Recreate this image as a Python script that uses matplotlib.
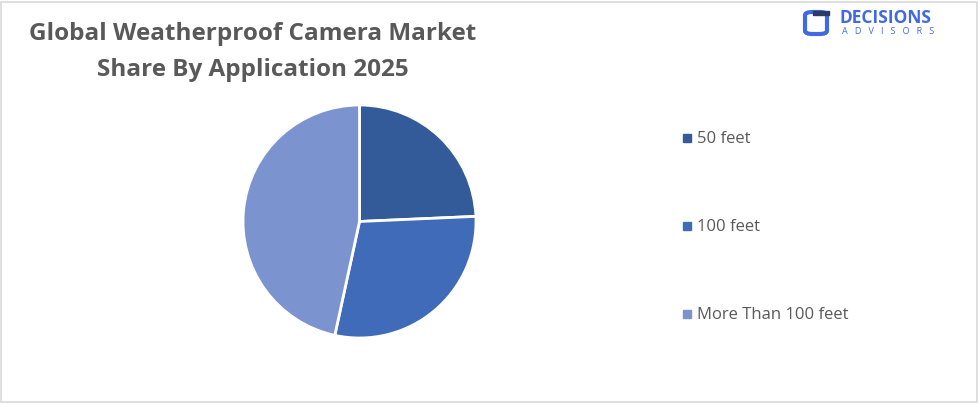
import matplotlib.pyplot as plt
from matplotlib.patches import Rectangle, FancyBboxPatch

# Market share by application
labels = ["50 feet", "100 feet", "More Than 100 feet"]
shares = [24.3, 29.1, 46.6]
colors = ["#335A99", "#3F6BB9", "#7B94CF"]

W, H = 979, 403
fig = plt.figure(figsize=(W / 100, H / 100), dpi=100)
fig.patch.set_facecolor("white")

# light frame around the whole chart
fig.patches.append(Rectangle((1 / W, 1 / H), 1 - 3 / W, 1 - 3 / H, transform=fig.transFigure,
                             fill=False, edgecolor="#D9D9D9", linewidth=1.2))

fig.text(253 / W, 1 - 34 / H, "Global Weatherproof Camera Market", ha="center", va="center",
         fontsize=17.5, fontweight="bold", color="#595959", family="Open Sans")
fig.text(253 / W, 1 - 70 / H, "Share By Application 2025", ha="center", va="center",
         fontsize=17.5, fontweight="bold", color="#595959", family="Open Sans")

# pie
ax = fig.add_axes([243 / W, (H - 338) / H, 233 / W, 233 / H])
wedges, _ = ax.pie(shares, colors=colors, startangle=90, counterclock=False,
                   wedgeprops=dict(edgecolor="white", linewidth=2))
ax.set_xlim(-1.0, 1.0)
ax.set_ylim(-1.0, 1.0)
ax.set_aspect("equal")

# legend
leg_y = [139, 227, 315]
for lab, col, y in zip(labels, colors, leg_y):
    fig.patches.append(Rectangle((683 / W, 1 - (y + 3) / H), 8 / W, 8 / H,
                                 transform=fig.transFigure, color=col))
    fig.text(697 / W, 1 - y / H, lab, ha="left", va="center", fontsize=12,
             color="#595959", family="Open Sans")

# logo
blue = "#4169E1"
fig.patches.append(FancyBboxPatch((805 / W, 1 - 34 / H), 22 / W, 22 / H,
                                  boxstyle="round,pad=0,rounding_size=0.008",
                                  transform=fig.transFigure, fill=False,
                                  edgecolor=blue, linewidth=3))
fig.patches.append(Rectangle((813 / W, 1 - 15 / H), 16 / W, 4 / H,
                             transform=fig.transFigure, color="#2B3A67"))
fig.text(840 / W, 1 - 18 / H, "DECISIONS", ha="left", va="center", fontsize=12.5,
         fontweight="bold", color=blue, family="Open Sans")
fig.text(842 / W, 1 - 31 / H, "A   D   V   I   S   O   R   S", ha="left", va="center",
         fontsize=6.5, color=blue, family="Open Sans")

fig.savefig("out.png", dpi=100, facecolor="white")
